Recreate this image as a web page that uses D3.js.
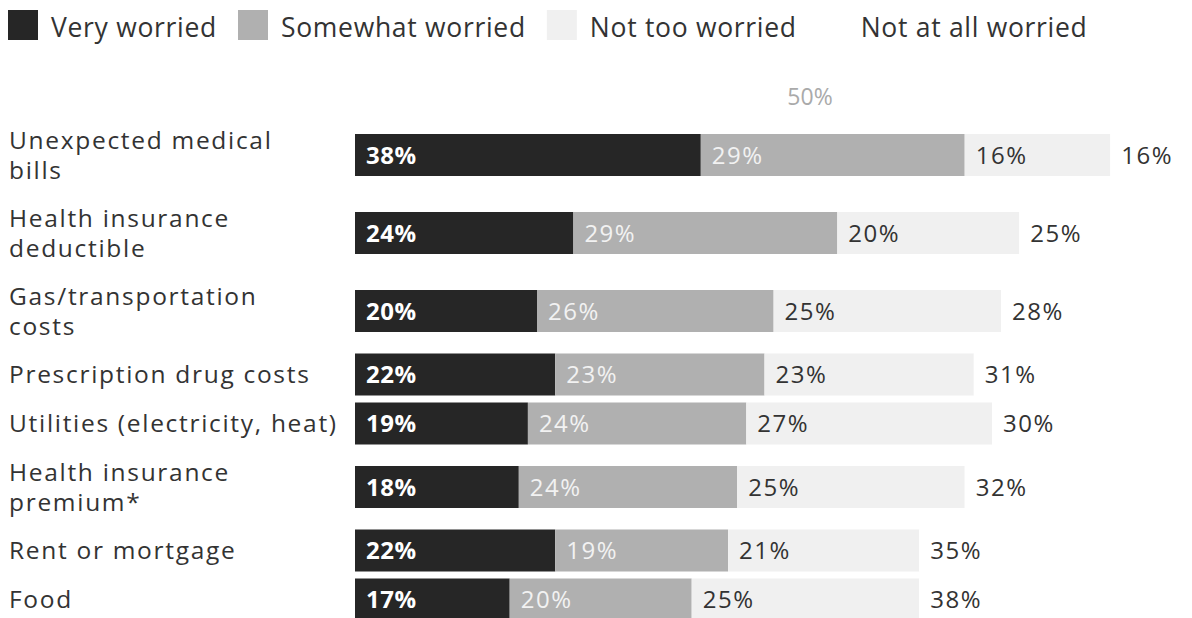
<!DOCTYPE html>
<html>
<head>
<meta charset="utf-8">
<script src="https://cdn.jsdelivr.net/npm/d3@7"></script>
<style>
  body { margin: 0; background: #fff; }
  svg { display: block; font-family: "Open Sans", Lato, sans-serif; }
</style>
</head>
<body>
<svg id="chart" width="1192" height="618"></svg>
<script>
// data
var categories = [
  "Unexpected medical\nbills",
  "Health insurance\ndeductible",
  "Gas/transportation\ncosts",
  "Prescription drug costs",
  "Utilities (electricity, heat)",
  "Health insurance\npremium*",
  "Rent or mortgage",
  "Food"
];
var seriesNames = ["Very worried", "Somewhat worried", "Not too worried", "Not at all worried"];
var veryWorried     = [38, 24, 20, 22, 19, 18, 22, 17];
var somewhatWorried = [29, 29, 26, 23, 24, 24, 19, 20];
var notTooWorried   = [16, 20, 25, 23, 27, 25, 21, 25];
var notAtAllWorried = [16, 25, 28, 31, 30, 32, 35, 38];
var refTick = 50;

var colors = ["#262626", "#b0b0b0", "#f0f0f0", "#ffffff"];
var labelColors = ["#fff", "#f2f2f2", "#333", "#333"];

var svg = d3.select("#chart");

var x = d3.scaleLinear().domain([0, 100]).range([355, 355 + 910]);

// rows: height depends on how many lines the category label needs
var rows = categories.map(function(c, i) {
  return { name: c, lines: c.split("\n"), i: i };
});
var rowTop = 116;
rows.forEach(function(r) {
  var h = r.lines.length === 2 ? 78 : 49;
  r.center = rowTop + h / 2;
  rowTop += h;
});
var barH = 42;

var table = rows.map(function(r) {
  return {
    name: r.name,
    "Very worried": veryWorried[r.i],
    "Somewhat worried": somewhatWorried[r.i],
    "Not too worried": notTooWorried[r.i],
    "Not at all worried": notAtAllWorried[r.i],
    center: r.center
  };
});
var stack = d3.stack().keys(seriesNames)(table);

// legend
var legend = svg.append("g").attr("font-size", 26.5).attr("fill", "#333")
  .attr("letter-spacing", "0.7px");
var lx = 8;
seriesNames.forEach(function(s, k) {
  var g = legend.append("g").attr("transform", "translate(" + lx + ",0)");
  g.append("rect").attr("x", 0).attr("y", 10).attr("width", 30).attr("height", 30)
    .attr("fill", colors[k]);
  var t = g.append("text").attr("x", 43).attr("y", 37).text(s);
  lx += 43 + t.node().getComputedTextLength() + 21;
});

// 50% reference label
svg.append("text")
  .attr("x", x(refTick)).attr("y", 105)
  .attr("text-anchor", "middle")
  .attr("font-size", 23).attr("fill", "#aaa")
  .text(refTick + "%");

// category labels
var catG = svg.append("g").attr("font-size", 24.5).attr("fill", "#333")
  .attr("letter-spacing", "1.7px");
rows.forEach(function(r) {
  var n = r.lines.length;
  r.lines.forEach(function(line, j) {
    catG.append("text")
      .attr("x", 9)
      .attr("y", r.center + (j - (n - 1) / 2) * 30)
      .attr("dy", "0.35em")
      .text(line);
  });
});

// bars
stack.forEach(function(layer, k) {
  var g = svg.append("g");
  g.selectAll("rect").data(layer).enter().append("rect")
    .attr("x", function(d) { return x(d[0]); })
    .attr("y", function(d) { return d.data.center - barH / 2; })
    .attr("width", function(d) { return x(d[1]) - x(d[0]); })
    .attr("height", barH)
    .attr("fill", colors[k]);
  g.selectAll("text").data(layer).enter().append("text")
    .attr("x", function(d) { return x(d[0]) + 11; })
    .attr("y", function(d) { return d.data.center; })
    .attr("dy", "0.36em")
    .attr("font-size", 24)
    .attr("letter-spacing", k === 0 ? "0.5px" : "1.5px")
    .attr("font-weight", k === 0 ? "bold" : "normal")
    .attr("fill", labelColors[k])
    .text(function(d) { return (d[1] - d[0]) + "%"; });
});
</script>
</body>
</html>
